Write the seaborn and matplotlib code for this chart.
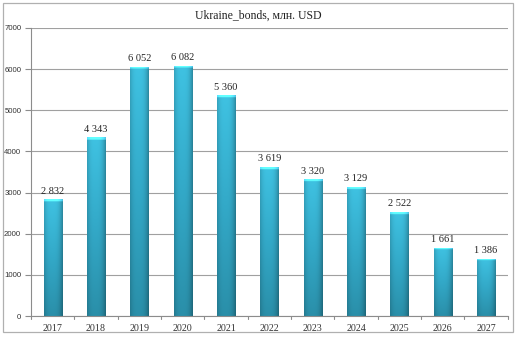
import numpy as np
import pandas as pd
import matplotlib
matplotlib.use("Agg")
import matplotlib.pyplot as plt
import seaborn as sns
from matplotlib.colors import LinearSegmentedColormap
from matplotlib.patches import Rectangle

years = ["2017", "2018", "2019", "2020", "2021", "2022", "2023", "2024", "2025", "2026", "2027"]
values = [2832, 4343, 6052, 6082, 5360, 3619, 3320, 3129, 2522, 1661, 1386]
labels = ["2 832", "4 343", "6 052", "6 082", "5 360", "3 619", "3 320", "3 129", "2 522", "1 661", "1 386"]
y_ticks = [0, 1000, 2000, 3000, 4000, 5000, 6000, 7000]
title = "Ukraine_bonds, млн. USD"

sns.set_theme(style="white")
plt.rcParams["font.family"] = ["Liberation Serif", "DejaVu Serif"]

df = pd.DataFrame({"year": years, "value": values})

fig = plt.figure(figsize=(5.16, 3.41), dpi=100)
ax = fig.add_axes([0.060, 0.0733, 0.924, 0.845])

sns.barplot(data=df, x="year", y="value", color="#31a9c9", width=0.42,
            saturation=1, ax=ax, zorder=2)

# vertical gradient fill (light cyan top -> darker teal bottom), with darker edges
vert = LinearSegmentedColormap.from_list("v", ["#2a8fa9", "#33a9c8", "#3fc2e2"])
nx, ny = 40, 200
xs = np.linspace(0, 1, nx)
ys = np.linspace(0, 1, ny)
edge = 1 - 0.22 * (np.abs(xs - 0.45) * 2) ** 3
for patch in ax.patches:
    x0, y0 = patch.get_x(), patch.get_y()
    w, h = patch.get_width(), patch.get_height()
    rgb = vert(ys)[:, :3]
    img = rgb[:, None, :] * edge[None, :, None]
    # bright cap at top
    cap = ys > 1 - 45 / max(h, 1)
    img[cap] = np.clip(img[cap] * 1.25 + 0.08, 0, 1)
    im = ax.imshow(img, extent=[x0, x0 + w, y0, y0 + h], origin="lower",
                   aspect="auto", zorder=2.5, interpolation="bilinear")
    im.set_clip_path(patch)
    patch.set_edgecolor("none")

for i, (v, lab) in enumerate(zip(values, labels)):
    ax.text(i, v + 90, lab, ha="center", va="bottom", fontsize=7.5, color="#222222", zorder=4)

ax.set_ylim(0, 7000)
ax.set_xlim(-0.5, len(years) - 0.5)
ax.set_yticks(y_ticks)
ax.set_yticklabels([str(t) for t in y_ticks], fontsize=5.6, color="#333333",
                   family=["Liberation Sans", "DejaVu Sans"])
ax.set_xticks(range(len(years)))
ax.set_xticklabels(years, fontsize=7.2, color="#333333")
ax.set_xlabel("")
ax.set_ylabel("")
ax.yaxis.grid(True, color="#a0a0a0", linewidth=0.8, zorder=0)
ax.set_axisbelow(True)

for s in ["top", "right"]:
    ax.spines[s].set_visible(False)
for s in ["left", "bottom"]:
    ax.spines[s].set_color("#8c8c8c")
    ax.spines[s].set_linewidth(0.8)

ax.tick_params(axis="y", length=4, width=0.8, color="#8c8c8c", pad=3, left=True)
ax.tick_params(axis="x", length=0, pad=6, bottom=True)
# small ticks between categories
for b in np.arange(-0.5, len(years), 1.0):
    ax.plot([b, b], [0, -70], color="#8c8c8c", lw=0.8, clip_on=False, zorder=3)

fig.text(0.5, 0.955, title, ha="center", va="center", fontsize=8.5, color="#222222")

# outer chart frame
fig.patches.append(Rectangle((0.006, 0.025), 0.988, 0.967, transform=fig.transFigure,
                             fill=False, edgecolor="#b0b0b0", linewidth=0.9))

fig.savefig("out.png", dpi=100)
